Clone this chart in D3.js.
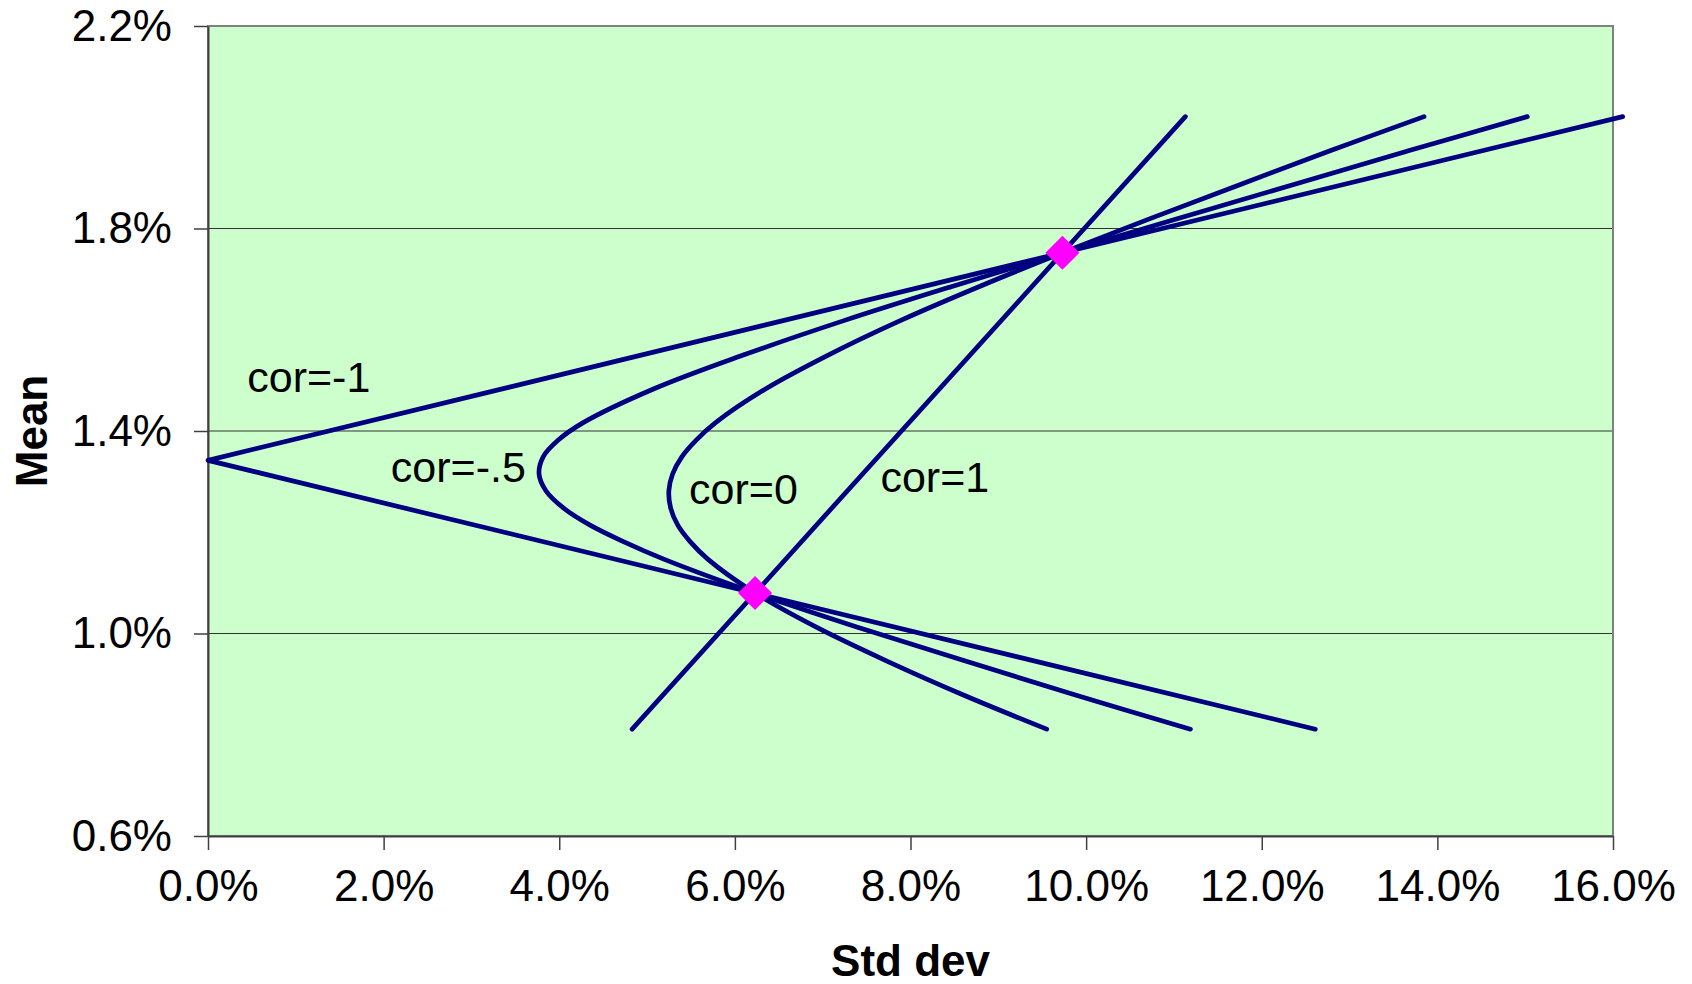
<!DOCTYPE html>
<html>
<head>
<meta charset="utf-8">
<script src="https://cdn.jsdelivr.net/npm/d3@7"></script>
<style>
  html, body { margin: 0; padding: 0; background: #ffffff; }
  svg { display: block; font-family: "Liberation Sans", Arial, sans-serif; }
</style>
</head>
<body>
<svg id="chart" width="1692" height="984"></svg>
<script>
// ---- Data (values in %) ----
const xTickValues = [0, 2, 4, 6, 8, 10, 12, 14, 16];
const yTickValues = [0.6, 1.0, 1.4, 1.8, 2.2];

// portfolio means along the frontiers (weight on asset B from -0.4 to 1.4)
const frontierMeans = [0.811, 0.878, 0.946, 1.013, 1.080, 1.147, 1.181, 1.214, 1.248, 1.282, 1.315,
                       1.349, 1.382, 1.416, 1.483, 1.550, 1.618, 1.685, 1.752, 1.819, 1.886, 1.954, 2.021];
// std devs, cor = 0
const sdCor0 = [9.551, 8.609, 7.725, 6.922, 6.230, 5.691, 5.493, 5.350, 5.268, 5.248, 5.291,
                5.396, 5.560, 5.777, 6.348, 7.063, 7.883, 8.779, 9.730, 10.721, 11.742, 12.786, 13.848];
// std devs, cor = -0.5
const sdCorHalf = [11.188, 9.887, 8.616, 7.388, 6.230, 5.190, 4.737, 4.351, 4.047, 3.848, 3.770,
                   3.817, 3.989, 4.268, 5.073, 6.095, 7.242, 8.463, 9.730, 11.028, 12.346, 13.680, 15.024];
// cor = -1 (straight segments meeting at zero risk)
const corM1Means = [0.811, 1.342, 2.021];
const corM1Sd = [12.61, 0.0, 16.11];
// cor = +1 (straight line)
const cor1Means = [0.811, 2.021];
const cor1Sd = [4.83, 11.13];
// the two assets
const assetSd = [6.23, 9.73];
const assetMean = [1.080, 1.752];

const curveLabels = ["cor=-1", "cor=-.5", "cor=0", "cor=1"];

// ---- Layout ----
const W = 1692, H = 984;
const plot = { left: 208, right: 1613, top: 26, bottom: 836 };
const labelAnchors = [[0.447, 1.478], [2.082, 1.300], [5.478, 1.256], [7.658, 1.279]];

const svg = d3.select("#chart");
const x = d3.scaleLinear().domain([0, 16]).range([plot.left, plot.right]);
const y = d3.scaleLinear().domain([0.6, 2.2]).range([plot.bottom, plot.top]);
const fmt = d => d.toFixed(1) + "%";

// plot background
svg.append("rect")
  .attr("x", plot.left).attr("y", plot.top)
  .attr("width", plot.right - plot.left).attr("height", plot.bottom - plot.top)
  .attr("fill", "#CCFFCC");

// gridlines
svg.append("g").selectAll("line")
  .data(yTickValues.filter(v => v > 0.6 && v < 2.2))
  .join("line")
  .attr("x1", plot.left).attr("x2", plot.right)
  .attr("y1", d => y(d)).attr("y2", d => y(d))
  .attr("stroke", "#333333").attr("stroke-width", 1);

// plot border
svg.append("rect")
  .attr("x", plot.left).attr("y", plot.top)
  .attr("width", plot.right - plot.left).attr("height", plot.bottom - plot.top)
  .attr("fill", "none").attr("stroke", "#808080").attr("stroke-width", 2);

// axes
const xAxis = d3.axisBottom(x).tickValues(xTickValues).tickFormat(fmt).tickSize(14).tickSizeOuter(0).tickPadding(20);
const yAxis = d3.axisLeft(y).tickValues(yTickValues).tickFormat(fmt).tickSize(14).tickSizeOuter(0).tickPadding(20);

const gx = svg.append("g").attr("transform", `translate(0,${plot.bottom})`).call(xAxis);
const gy = svg.append("g").attr("transform", `translate(${plot.left},0)`).call(yAxis);
[gx, gy].forEach(g => {
  g.select(".domain").attr("stroke", "#404040").attr("stroke-width", 2);
  g.selectAll(".tick line").attr("stroke", "#404040").attr("stroke-width", 1.5);
  g.selectAll(".tick text")
    .attr("fill", "#000")
    .style("font-family", '"Liberation Sans", Arial, sans-serif')
    .style("font-size", "44px");
});
gx.selectAll(".tick text").attr("dy", "0.71em").attr("y", 34);
gy.selectAll(".tick text").attr("x", -36);

// axis titles
svg.append("text")
  .attr("x", (plot.left + plot.right) / 2).attr("y", 976)
  .attr("text-anchor", "middle")
  .style("font-size", "44px").style("font-weight", "bold")
  .text("Std dev");
svg.append("text")
  .attr("transform", `translate(47,${(plot.top + plot.bottom) / 2}) rotate(-90)`)
  .attr("text-anchor", "middle")
  .style("font-size", "44px").style("font-weight", "bold")
  .text("Mean");

// lines
const smooth = d3.line().x(d => x(d[0])).y(d => y(d[1])).curve(d3.curveCatmullRom.alpha(0.5));
const straight = d3.line().x(d => x(d[0])).y(d => y(d[1]));

const seriesSmooth = [
  d3.zip(sdCorHalf, frontierMeans),
  d3.zip(sdCor0, frontierMeans)
];
const seriesStraight = [
  d3.zip(corM1Sd, corM1Means),
  d3.zip(cor1Sd, cor1Means)
];

const gl = svg.append("g")
  .attr("fill", "none").attr("stroke", "#000080").attr("stroke-width", 4.7)
  .attr("stroke-linecap", "round").attr("stroke-linejoin", "round");
gl.selectAll("path.s").data(seriesStraight).join("path").attr("class", "s").attr("d", straight);
gl.selectAll("path.c").data(seriesSmooth).join("path").attr("class", "c").attr("d", smooth);

// asset markers
svg.append("g").selectAll("path")
  .data(d3.zip(assetSd, assetMean))
  .join("path")
  .attr("transform", d => `translate(${x(d[0])},${y(d[1])})`)
  .attr("d", "M0,-17L17,0L0,17L-17,0Z")
  .attr("fill", "#FF00FF");

// curve labels
svg.append("g").selectAll("text")
  .data(curveLabels)
  .join("text")
  .attr("x", (d, i) => x(labelAnchors[i][0]))
  .attr("y", (d, i) => y(labelAnchors[i][1]))
  .style("font-size", "43px")
  .attr("fill", "#000")
  .text(d => d);
</script>
</body>
</html>
